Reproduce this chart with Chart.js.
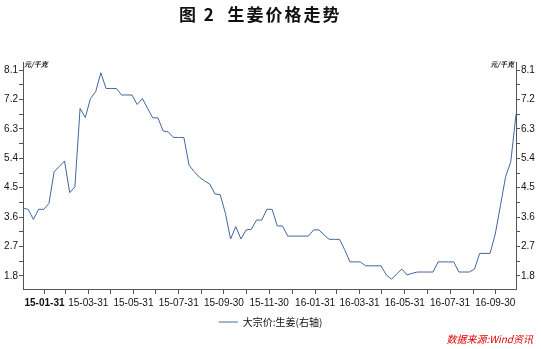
<!DOCTYPE html>
<html><head><meta charset="utf-8">
<script src="https://cdn.jsdelivr.net/npm/chart.js@4"></script>
<style>html,body{margin:0;padding:0;background:#fff;}#wrap{width:541px;height:349px;position:relative;}</style>
</head><body><div id="wrap"><canvas id="c"></canvas></div>
<script>
const titleText = '图 2  生姜价格走势';
const seriesName = '大宗价:生姜(右轴)';
const unitLabel = '元/千克';
const sourceText = '数据来源:Wind资讯';
const firstWeek = '2015-01-02';
const lastWeek = '2016-10-28';
// weekly ginger price, 元/千克
const gingerPrice = [
 3.87,3.84,3.53,3.84,3.84,4.02,4.99,5.15,5.32,4.35,
 4.53,6.93,6.65,7.23,7.44,8.02,7.54,7.54,7.54,7.34,
 7.34,7.34,7.05,7.23,6.93,6.64,6.64,6.24,6.21,6.04,
 6.04,6.04,5.19,4.99,4.82,4.71,4.61,4.31,4.29,3.72,
 2.93,3.31,2.93,3.21,3.23,3.51,3.51,3.84,3.84,3.33,
 3.33,3.02,3.02,3.02,3.02,3.02,3.21,3.21,3.06,2.92,
 2.92,2.92,2.60,2.23,2.23,2.23,2.11,2.11,2.11,2.11,
 1.83,1.70,1.86,2.01,1.83,1.88,1.92,1.92,1.92,1.92,
 2.23,2.23,2.23,2.23,1.92,1.92,1.92,2.01,2.49,2.49,
 2.49,3.08,3.95,4.84,5.30,6.75
];
const xMajorTicks = ['2015-01-31','2015-03-31','2015-05-31','2015-07-31','2015-09-30','2015-11-30','2016-01-31','2016-03-31','2016-05-31','2016-07-31','2016-09-30'];
const xMinorTicks = ['2015-02-28','2015-04-30','2015-06-30','2015-08-31','2015-10-31','2015-12-31','2016-02-29','2016-04-30','2016-06-30','2016-08-31'];
const yMajorTicks = [1.8,2.7,3.6,4.5,5.4,6.3,7.2,8.1];
const yMinorTicks = [2.25,3.15,4.05,4.95,5.85,6.75,7.65];
const yMin = 1.4, yMax = 8.35;

function dayNum(s){const p=s.split('-').map(Number);return Date.UTC(p[0],p[1]-1,p[2])/86400000;}
function fmt(n){const d=new Date(n*86400000);const y=String(d.getUTCFullYear()).slice(2);const m=String(d.getUTCMonth()+1).padStart(2,'0');const dd=String(d.getUTCDate()).padStart(2,'0');return y+'-'+m+'-'+dd;}
const x0 = dayNum(firstWeek);
const weekDates = gingerPrice.map((_,i)=>x0+i*7);
const points = gingerPrice.map((v,i)=>({x:weekDates[i],y:v}));
const majorX = xMajorTicks.map(dayNum);
const allX = majorX.concat(xMinorTicks.map(dayNum)).sort((a,b)=>a-b);
const allY = yMajorTicks.concat(yMinorTicks).sort((a,b)=>a-b);

const LINE = '#41669e';
const AXIS = '#555';
const tickFont = {family:'Liberation Sans', size:10};

const yAxisCommon = (pos, w) => ({
  type:'linear', position:pos, min:yMin, max:yMax,
  afterBuildTicks: s => { s.ticks = allY.map(v=>({value:v})); },
  afterFit: s => { s.width = w; },
  ticks:{ autoSkip:false, padding:1, color:'#111', font:tickFont,
    callback: v => { const m = yMajorTicks.find(t=>Math.abs(t-v)<1e-6); return m!==undefined ? m.toFixed(1) : ''; } },
  grid:{ drawOnChartArea:false, drawTicks:true, tickLength:4, color:AXIS },
  border:{ color:AXIS, width:1 }
});

const textPlugin = {
  id:'texts',
  afterDraw(chart){
    const ctx = chart.ctx; const a = chart.chartArea;
    ctx.save();
    ctx.fillStyle = '#111';
    ctx.font = 'bold 17px "Noto Sans CJK SC"';
    ctx.textBaseline = 'middle'; ctx.textAlign = 'left';
    try { ctx.letterSpacing = '2px'; } catch(e){}
    ctx.fillText(titleText, 179, 15);
    try { ctx.letterSpacing = '0px'; } catch(e){}
    ctx.font = 'italic bold 7px "Noto Sans CJK SC"';
    ctx.fillStyle = '#222';
    ctx.textAlign = 'left';
    ctx.fillText(unitLabel, a.left + 1, 64);
    ctx.textAlign = 'right';
    ctx.fillText(unitLabel, a.right - 2, 64);
    ctx.font = 'italic 10px "Noto Sans CJK SC"';
    ctx.fillStyle = '#e00000';
    ctx.fillText(sourceText, 533, 339);
    ctx.restore();
  }
};

new Chart(document.getElementById('c'), {
  type:'line',
  data:{ datasets:[{ label:seriesName, data:points, yAxisID:'yR', borderColor:LINE, backgroundColor:LINE, borderWidth:1, pointRadius:0, tension:0, fill:false }] },
  options:{
    responsive:true, maintainAspectRatio:false, animation:false,
    layout:{ padding:{ top:62, bottom:12, left:0, right:0 } },
    plugins:{
      title:{ display:false },
      tooltip:{ enabled:false },
      legend:{ display:true, position:'bottom',
        labels:{ usePointStyle:true, pointStyle:'line', pointStyleWidth:19, padding:6, color:'#111',
          font:{ family:'"Noto Sans CJK SC"', size:10 } } }
    },
    scales:{
      x:{ type:'linear', position:'bottom', min:x0, max:dayNum(lastWeek),
        afterBuildTicks: s => { s.ticks = allX.map(v=>({value:v})); },
        afterFit: s => { s.height = 22; },
        ticks:{ autoSkip:false, maxRotation:0, minRotation:0, padding:3, color:'#111',
          font: c => ({family:'Liberation Sans', size:10, weight: (c.tick && c.tick.value===majorX[0]) ? 'bold' : 'normal'}),
          callback: v => majorX.includes(v) ? fmt(v) : '' },
        grid:{ drawOnChartArea:false, drawTicks:true, tickLength:5, color:AXIS },
        border:{ color:AXIS, width:1 } },
      yL: yAxisCommon('left', 23),
      yR: yAxisCommon('right', 25)
    }
  },
  plugins:[textPlugin]
});
</script></body></html>
